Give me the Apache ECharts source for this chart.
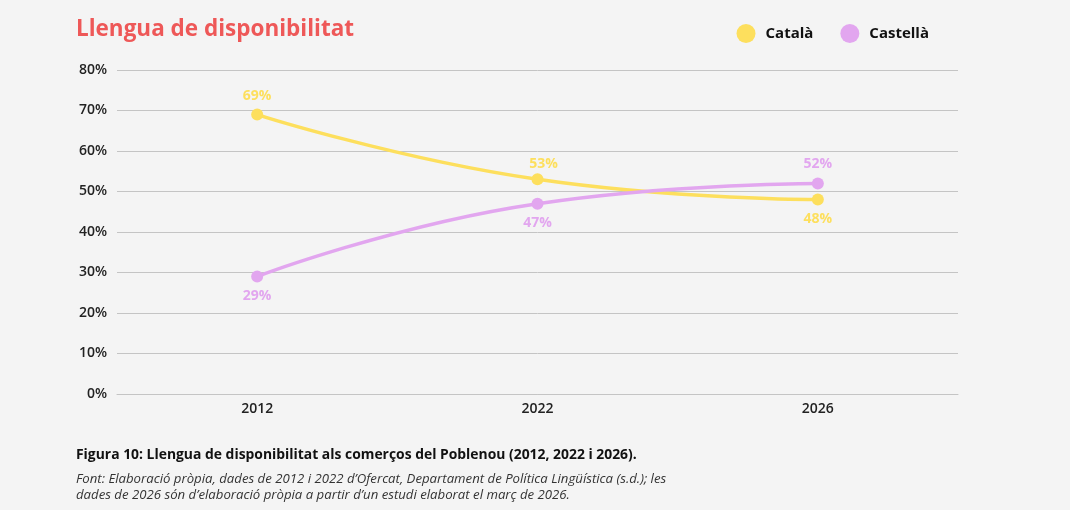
<!DOCTYPE html>
<html>
<head>
<meta charset="utf-8">
<style>
  html, body { margin: 0; padding: 0; background: #f4f4f4; }
  #chart { width: 1070px; height: 510px; }
</style>
<script src="https://cdn.jsdelivr.net/npm/echarts@6/dist/echarts.min.js"></script>
</head>
<body>
<div id="chart"></div>
<script>
  var years = ['2012', '2022', '2026'];
  var catala = [69, 53, 48];
  var castella = [29, 47, 52];
  var yTicks = [0, 10, 20, 30, 40, 50, 60, 70, 80];

  var FONT = '"Open Sans", "Noto Sans", sans-serif';
  var YELLOW = '#fddf5d';
  var LILAC = '#e2a6ef';

  // Castellà sits above Català at the last year, so the labels swap sides there
  function points(values, side, lastSide) {
    return values.map(function (v, i) {
      return { value: v, label: { position: i === values.length - 1 ? lastSide : side } };
    });
  }

  var catalaPoints = points(catala, 'top', 'bottom');
  // the 2022 label in the original hugs the point a little closer
  catalaPoints[1].label.distance = 2;
  catalaPoints[1].label.offset = [6, 0];

  var chart = echarts.init(document.getElementById('chart'));

  chart.setOption({
    backgroundColor: '#f4f4f4',
    textStyle: { fontFamily: FONT },
    title: [{
      text: 'Llengua de disponibilitat',
      left: 76, top: 18, padding: 0,
      textStyle: { color: '#ee5858', fontSize: 22.5, fontWeight: 'bold', fontFamily: FONT }
    }, {
      text: 'Figura 10: Llengua de disponibilitat als comerços del Poblenou (2012, 2022 i 2026).',
      left: 76, top: 448, padding: 0,
      textStyle: { color: '#111', fontSize: 13.9, fontWeight: 'bold', fontFamily: FONT }
    }, {
      text: 'Font: Elaboració pròpia, dades de 2012 i 2022 d\u2019Ofercat, Departament de Política Lingüística (s.d.); les\ndades de 2026 són d\u2019elaboració pròpia a partir d\u2019un estudi elaborat el març de 2026.',
      left: 76, top: 470.5, padding: 0,
      textStyle: { color: '#333', fontSize: 13.2, fontStyle: 'italic', fontWeight: 'normal', lineHeight: 16.5, fontFamily: FONT }
    }],
    legend: {
      right: 141, top: 24, padding: 0,
      icon: 'circle',
      itemWidth: 29, itemHeight: 19,
      itemGap: 27,
      textStyle: { color: '#111', fontSize: 15, fontWeight: 'bold', fontFamily: FONT },
      data: ['Català', 'Castellà']
    },
    grid: { left: 117, right: 112, top: 70, bottom: 116 },
    xAxis: {
      type: 'category',
      data: years,
      boundaryGap: true,
      axisLine: { show: true, lineStyle: { color: '#c4c4c4' } },
      axisTick: { show: false },
      axisLabel: { color: '#222', fontSize: 14, fontWeight: 600, margin: 8, fontFamily: FONT }
    },
    yAxis: {
      type: 'value',
      min: yTicks[0], max: yTicks[yTicks.length - 1], interval: 10,
      axisLine: { show: false },
      axisTick: { show: false },
      axisLabel: { color: '#222', fontSize: 14, fontWeight: 600, margin: 10, formatter: '{value}%', fontFamily: FONT },
      splitLine: { lineStyle: { color: '#c4c4c4', width: 1 } }
    },
    series: [{
      name: 'Català',
      type: 'line',
      data: catalaPoints,
      smooth: true,
      symbol: 'circle', symbolSize: 12,
      color: YELLOW,
      lineStyle: { width: 3.5, color: YELLOW },
      itemStyle: { color: YELLOW },
      label: {
        show: true, formatter: '{c}%', distance: 6,
        color: YELLOW, fontSize: 14, fontWeight: 'bold', fontFamily: FONT
      }
    }, {
      name: 'Castellà',
      type: 'line',
      data: points(castella, 'bottom', 'top'),
      smooth: true,
      symbol: 'circle', symbolSize: 12,
      color: LILAC,
      lineStyle: { width: 3.5, color: LILAC },
      itemStyle: { color: LILAC },
      label: {
        show: true, formatter: '{c}%', distance: 6,
        color: LILAC, fontSize: 14, fontWeight: 'bold', fontFamily: FONT
      }
    }]
  });
</script>
</body>
</html>
